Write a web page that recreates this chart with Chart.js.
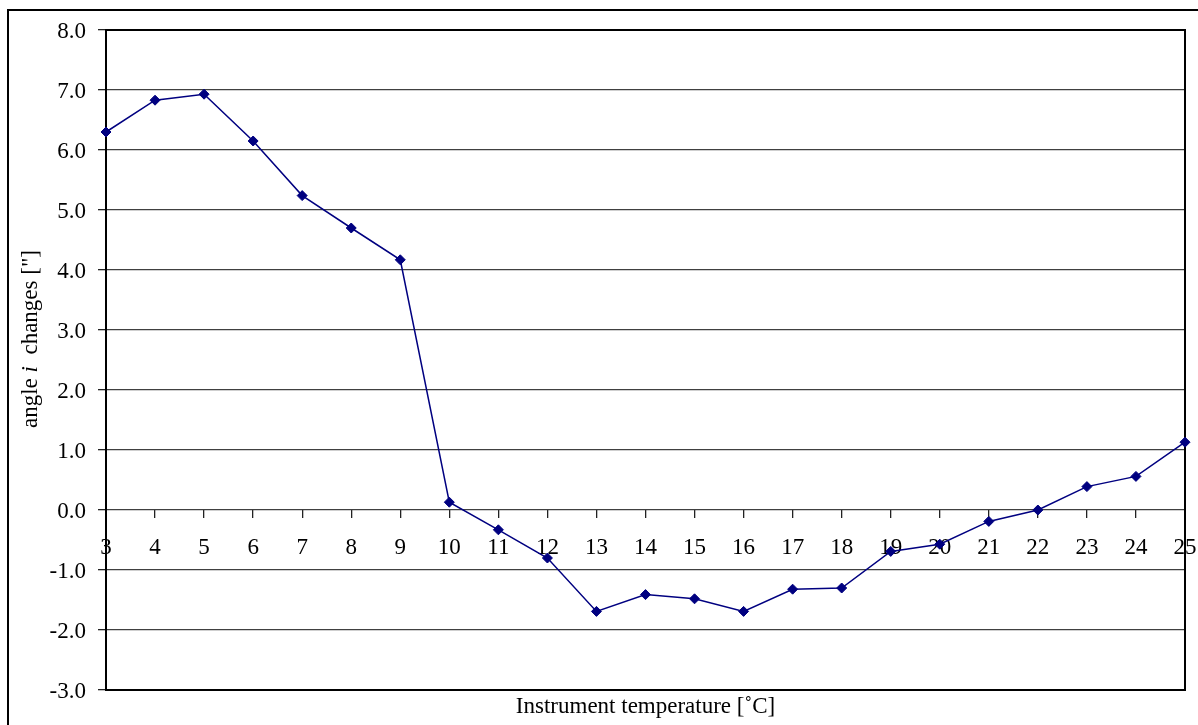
<!DOCTYPE html>
<html>
<head>
<meta charset="utf-8">
<script src="https://cdn.jsdelivr.net/npm/chart.js@4/dist/chart.umd.min.js"></script>
<style>
  html, body { margin: 0; padding: 0; background: #fff; }
  #wrap { position: absolute; left: 0; top: 0; width: 1198px; height: 725px; }
</style>
</head>
<body>
<div id="wrap"><canvas id="c" width="1198" height="725"></canvas></div>
<script>
// ---- data ----
const temperatures = [3, 4, 5, 6, 7, 8, 9, 10, 11, 12, 13, 14, 15, 16, 17, 18, 19, 20, 21, 22, 23, 24, 25];
const angleChanges = [6.30, 6.83, 6.93, 6.15, 5.24, 4.70, 4.17, 0.13, -0.33, -0.80, -1.69, -1.41, -1.48, -1.69, -1.32, -1.30, -0.69, -0.57, -0.19, 0.00, 0.39, 0.56, 1.13];
const yTickValues = [-3, -2, -1, 0, 1, 2, 3, 4, 5, 6, 7, 8];
const xTickValues = temperatures;
const xTitle = 'Instrument temperature [\u02DAC]';
const yTitleParts = [['angle ', false], ['i', true], ['  changes ["]', false]];

const FONT = "'Liberation Serif', 'Times New Roman', serif";
const FS = 23;

const framePlugin = {
  id: 'frame',
  beforeDraw(chart) {
    const ctx = chart.ctx;
    ctx.save();
    ctx.fillStyle = '#fff';
    ctx.fillRect(0, 0, chart.width, chart.height);
    ctx.strokeStyle = '#000';
    ctx.lineWidth = 2;
    ctx.beginPath();
    ctx.moveTo(8, chart.height);
    ctx.lineTo(8, 10);
    ctx.lineTo(chart.width, 10);
    ctx.stroke();
    ctx.restore();
  },
  beforeDatasetsDraw(chart) {
    const a = chart.chartArea;
    const ctx = chart.ctx;
    ctx.save();
    ctx.strokeStyle = '#000';
    ctx.lineWidth = 2;
    ctx.strokeRect(a.left, a.top, a.right - a.left, a.bottom - a.top);
    ctx.restore();
  },
  afterDraw(chart) {
    const ctx = chart.ctx;
    ctx.save();
    ctx.fillStyle = '#000';
    ctx.textBaseline = 'middle';
    ctx.textAlign = 'left';
    const fonts = yTitleParts.map(p => (p[1] ? 'italic ' : '') + FS + 'px ' + FONT);
    let total = 0;
    const widths = yTitleParts.map((p, i) => { ctx.font = fonts[i]; const w = ctx.measureText(p[0]).width; total += w; return w; });
    ctx.translate(31, 339);
    ctx.rotate(-Math.PI / 2);
    let x = -total / 2;
    yTitleParts.forEach((p, i) => { ctx.font = fonts[i]; ctx.fillText(p[0], x, 0); x += widths[i]; });
    ctx.restore();
  }
};

new Chart(document.getElementById('c'), {
  type: 'line',
  data: {
    datasets: [{
      data: temperatures.map((t, i) => ({ x: t, y: angleChanges[i] })),
      borderColor: '#000080',
      backgroundColor: '#000080',
      borderWidth: 1.5,
      pointStyle: 'rectRot',
      pointRadius: 5,
      pointBorderWidth: 1,
      pointBorderColor: '#000080',
      pointBackgroundColor: '#000080',
      tension: 0,
      fill: false,
      clip: false
    }]
  },
  options: {
    responsive: false,
    animation: false,
    events: [],
    layout: { padding: { left: 0, top: 30, right: 13, bottom: 0 } },
    plugins: {
      legend: { display: false },
      tooltip: { enabled: false },
      title: {
        display: true,
        text: xTitle,
        position: 'bottom',
        fullSize: false,
        color: '#000',
        font: { family: FONT, size: FS, weight: 'normal', lineHeight: 1.2 },
        padding: { top: 3.4, bottom: 4.0 }
      }
    },
    scales: {
      x: {
        type: 'linear',
        position: { y: 0 },
        min: 3,
        max: 25,
        afterBuildTicks: s => { s.ticks = xTickValues.map(v => ({ value: v })); },
        afterFit: s => { s.height = 0; s.paddingLeft = 0; s.paddingRight = 0; },
        ticks: {
          color: '#000',
          font: { family: FONT, size: FS },
          padding: 16,
          maxRotation: 0,
          autoSkip: false,
          callback: v => String(v)
        },
        grid: { drawOnChartArea: false, drawTicks: true, tickLength: 8, color: '#222', lineWidth: 1.3 },
        border: { display: false }
      },
      y: {
        type: 'linear',
        min: -3,
        max: 8,
        afterBuildTicks: s => { s.ticks = yTickValues.map(v => ({ value: v })); },
        afterFit: s => { s.width = 106; s.paddingTop = 0; s.paddingBottom = 0; },
        ticks: {
          color: '#000',
          font: { family: FONT, size: FS },
          padding: 12,
          labelOffset: 1.5,
          callback: v => Number(v).toFixed(1)
        },
        grid: { color: '#404040', lineWidth: 1.3, tickLength: 8, tickColor: '#222' },
        border: { display: true, color: '#000', width: 2 }
      }
    }
  },
  plugins: [framePlugin]
});
</script>
</body>
</html>
